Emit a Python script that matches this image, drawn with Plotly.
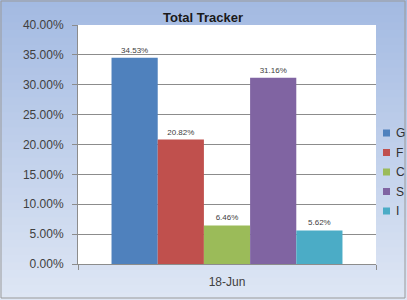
import plotly.graph_objects as go

categories = ["18-Jun"]
series_names = ["G", "F", "C", "S", "I"]
series_values = [34.53, 20.82, 6.46, 31.16, 5.62]
series_colors = ["#4F81BD", "#C0504D", "#9BBB59", "#8064A2", "#4BACC6"]
y_ticks = [0, 5, 10, 15, 20, 25, 30, 35, 40]

W, H = 407, 300
L, R, T, B = 78, 31, 25, 36
pw, ph = W - L - R, H - T - B

def px_x(p):
    return (p - L) / pw

def px_y(p):
    return (H - B - p) / ph

fig = go.Figure()
for name, val, col in zip(series_names, series_values, series_colors):
    fig.add_trace(go.Bar(
        x=categories, y=[val], name=name, marker=dict(color=col, line=dict(width=0)),
        text=[f"{val:.2f}%"], textposition="outside",
        textfont=dict(size=8, color="#404040", family="Liberation Sans"),
        cliponaxis=False, showlegend=False,
    ))

shapes = []
annotations = []
# background gradient
top = (163, 186, 226)
bot = (222, 230, 244)
n = 40
for i in range(n):
    t = i / (n - 1)
    c = tuple(int(round(top[k] + (bot[k] - top[k]) * t)) for k in range(3))
    y0p = H * i / n
    y1p = H * (i + 1) / n + 1
    shapes.append(dict(type="rect", xref="paper", yref="paper", layer="below",
                       x0=px_x(-5), x1=px_x(W + 5), y0=px_y(y1p), y1=px_y(y0p),
                       fillcolor="rgb(%d,%d,%d)" % c, line=dict(width=0)))
# plot area white
shapes.append(dict(type="rect", xref="paper", yref="paper", layer="below",
                   x0=0, x1=1, y0=0, y1=1, fillcolor="white", line=dict(width=0)))
# outer border
shapes.append(dict(type="rect", xref="paper", yref="paper", layer="above",
                   x0=px_x(1), x1=px_x(W - 2), y0=px_y(H - 2), y1=px_y(1),
                   fillcolor="rgba(0,0,0,0)", line=dict(width=1, color="#9A9A9A")))

# legend (custom, Excel style)
leg_y0, leg_step = 133, 19.5
for i, (name, col) in enumerate(zip(series_names, series_colors)):
    cy = leg_y0 + i * leg_step
    shapes.append(dict(type="rect", xref="paper", yref="paper", layer="above",
                       x0=px_x(383), x1=px_x(390), y0=px_y(cy + 3.5), y1=px_y(cy - 3.5),
                       fillcolor=col, line=dict(width=0)))
    annotations.append(dict(xref="paper", yref="paper", x=px_x(394), y=px_y(cy),
                            xanchor="left", yanchor="middle", text=name, showarrow=False,
                            font=dict(size=12, color="#303030", family="Liberation Sans")))

fig.update_layout(
    width=W, height=H,
    margin=dict(l=L, r=R, t=T, b=B, autoexpand=False),
    paper_bgcolor="rgba(0,0,0,0)",
    plot_bgcolor="rgba(0,0,0,0)",
    barmode="group", bargap=0.225, bargroupgap=0,
    shapes=shapes, annotations=annotations,
    title=dict(text="<b>Total Tracker</b>", x=203 / W, xanchor="center",
               y=1 - 17 / H, yanchor="middle",
               font=dict(size=13, color="#1a1a1a", family="Liberation Sans")),
    font=dict(family="Liberation Sans", color="#404040"),
    showlegend=False,
)
fig.update_yaxes(range=[0, 40], tickvals=y_ticks,
                 ticktext=[f"{v:.2f}%" for v in y_ticks],
                 showgrid=True, gridcolor="#8C8C8C", gridwidth=1,
                 showline=True, linecolor="#8C8C8C", ticks="outside", ticklen=5,
                 tickcolor="#8C8C8C", tickfont=dict(size=12, color="#404040"),
                 ticklabelstandoff=6,
                 zeroline=False, fixedrange=True)
fig.update_xaxes(showline=True, linecolor="#8C8C8C", ticks="outside", tickson="boundaries",
                 ticklen=5, tickcolor="#8C8C8C", tickfont=dict(size=12, color="#404040"),
                 ticklabelstandoff=7,
                 fixedrange=True)

fig.write_html("out.html")
